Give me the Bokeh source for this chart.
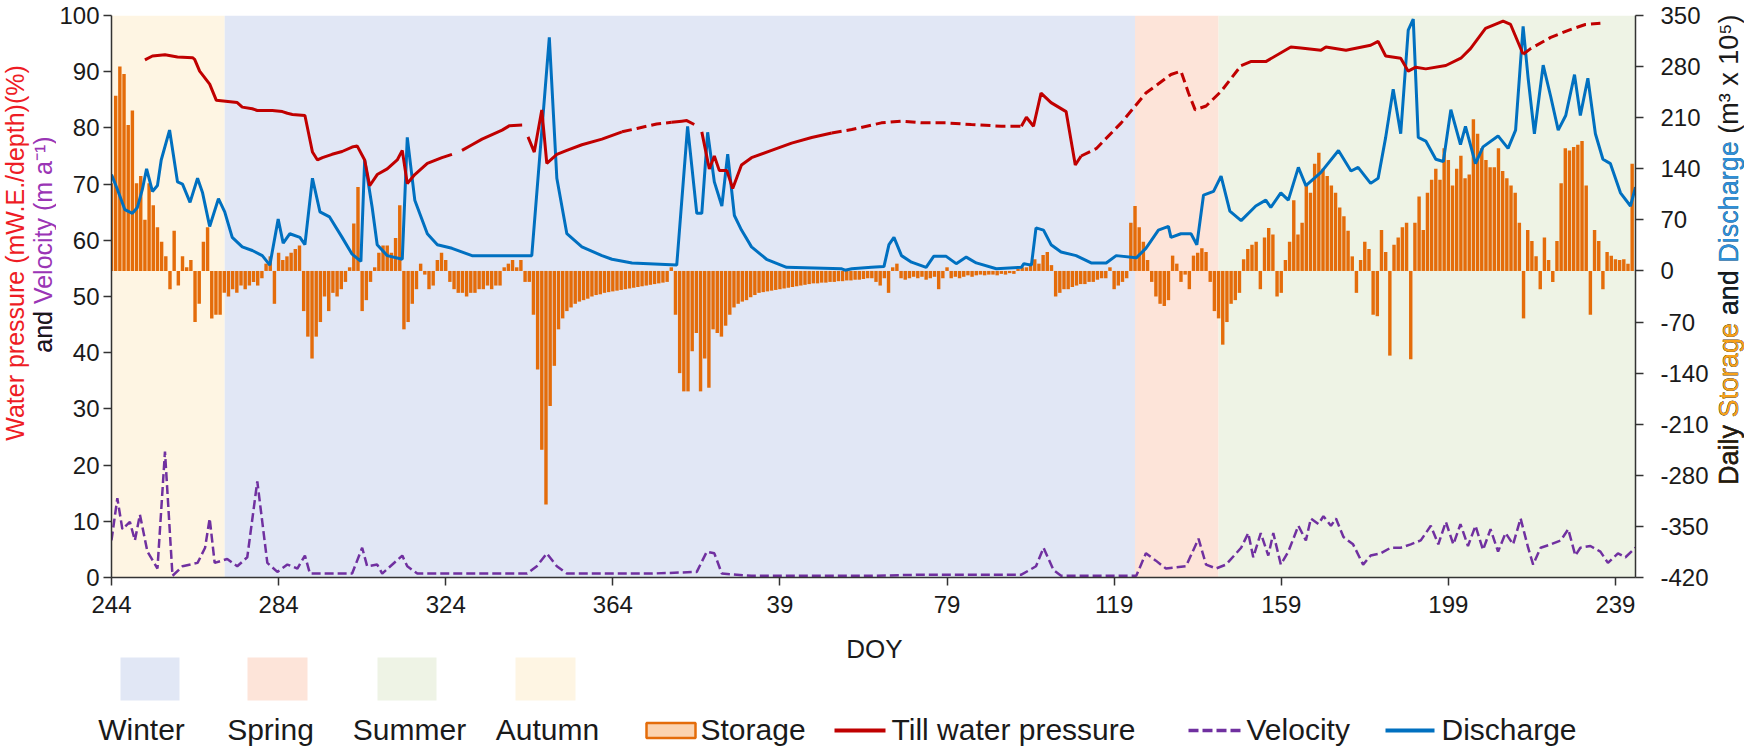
import math
from bokeh.plotting import figure
from bokeh.models import Range1d, LinearAxis, FixedTicker
from bokeh.layouts import row, column
from bokeh.core.properties import value
from bokeh.embed import file_html
from bokeh.resources import INLINE

FONT = "Liberation Sans"
NaN = float("nan")

# ---------------- data ----------------
# x = continuous day index: 244..365 = DOY of first year, 366.. = DOY + 365 of next year
tick_days = [244, 284, 324, 364, 404, 444, 484, 524, 564, 604]
tick_labels = ["244", "284", "324", "364", "39", "79", "119", "159", "199", "239"]
left_ticks = list(range(0, 101, 10))
right_ticks = list(range(-420, 351, 70))

season_names = ["Autumn", "Winter", "Spring", "Summer"]
season_start = [244.0, 271.1, 489.0, 509.0]
season_end = [271.1, 489.0, 509.0, 608.8]
season_colors = ["#FEF5E3", "#E1E7F5", "#FDE4D9", "#EEF3E5"]

# daily storage (m3 x 10^5), one value per day starting at day 244
storage = [
    120, 240, 280, 270, 200, 220, 120, 130, 70, 120,
    90, 60, 40, 20, -25, 55, -20, 20, 5, 15,
    -70, -45, 40, 60, -65, -60, -60, -30, -35, -25,
    -30, -20, -25, -20, -15, -20, -10, 10, 20, -45,
    25, 15, 20, 25, 30, 35, -55, -90, -120, -90,
    -70, -35, -55, -30, -35, -25, -15, 5, 65, 115,
    -55, -40, -15, 5, 25, 35, 35, 25, 45, 90,
    -80, -70, -45, -25, 10, -5, -25, -20, 15, 25,
    15, -15, -25, -30, -30, -35, -30, -30, -25, -25,
    -20, -25, -20, -20, 5, 10, 15, 5, 15, -15,
    -15, -60, -135, -245, -320, -185, -130, -80, -65, -55,
    -50, -45, -42, -40, -38, -35, -33, -32, -30, -29,
    -28, -27, -26, -25, -24, -23, -22, -21, -20, -19,
    -18, -17, -16, -15, 5, -60, -140, -165, -165, -110,
    -85, -165, -120, -160, -80, -85, -90, -75, -60, -50,
    -45, -42, -40, -36, -33, -30, -29, -28, -27, -26,
    -25, -24, -23, -22, -21, -20, -19, -18, -17, -17,
    -16, -16, -15, -15, -14, -14, -13, -13, -12, -12,
    -11, -10, -10, -15, -20, -10, -30, 5, 10, -10,
    -12, -10, -8, -10, -8, -12, -10, -8, -25, -10,
    5, -10, -8, -10, -8, -6, -8, -6, -5, -6,
    -5, -5, -6, -4, -5, -3, -4, 3, 5, 5,
    10, 16, 10, 22, 26, 8, -35, -30, -25, -25,
    -22, -20, -18, -18, -15, -15, -12, -10, -10, 5,
    -25, -20, -15, -10, 66, 89, 60, 40, 15, -15,
    -35, -45, -48, -40, 21, 10, -15, -5, -25, 21,
    25, 31, 26, -15, -55, -65, -101, -70, -45, -40,
    -30, 16, 30, 36, 40, -25, 46, 59, 50, -35,
    -30, 15, 40, 97, 50, 66, 117, 107, 147, 162,
    140, 130, 117, 107, 87, 75, 55, 20, -30, 15,
    40, 30, -60, -62, 56, 26, -116, 36, 46, 60,
    66, -121, 66, 102, 56, 107, 125, 140, 125, 168,
    152, 117, 140, 158, 127, 132, 208, 188, 168, 152,
    142, 142, 168, 137, 127, 117, 107, 66, -65, 56,
    41, 20, -25, 46, 15, -15, 41, 120, 168, 165,
    170, 173, 178, 117, -60, 56, 41, -25, 26, 21,
    16, 15, 16, 10, 147,
]
storage_days = [244 + i for i in range(len(storage))]

discharge_days = [
    244.0, 245.4, 247.2, 249.0, 250.2, 251.4, 252.4, 253.8, 255.0, 255.9,
    257.9, 259.8, 261.0, 262.8, 264.6, 265.8, 267.5, 269.6, 271.1, 272.9,
    275.3, 277.7, 280.1, 281.9, 283.9, 285.1, 286.7, 289.1, 290.3, 292.1,
    293.9, 296.2, 299.2, 301.6, 303.7, 304.6, 306.4, 307.6, 310.0, 313.6,
    314.8, 316.6, 319.6, 322.0, 325.5, 330.3, 344.6, 348.8, 350.6, 353.0,
    356.6, 361.4, 363.8, 368.6, 379.3, 381.9, 384.1, 385.3, 386.7, 388.3,
    390.1, 391.5, 393.1, 394.8, 397.2, 400.8, 405.6, 418.8, 419.6, 421.2,
    425.9, 428.9, 430.1, 431.3, 433.1, 435.5, 439.0, 440.8, 443.8, 446.2,
    448.6, 451.0, 455.8, 461.8, 462.4, 464.2, 465.3, 467.1, 468.9, 471.3,
    474.9, 478.5, 482.1, 484.5, 489.3, 491.6, 494.6, 497.0, 497.6, 500.0,
    502.4, 503.8, 505.4, 507.8, 509.6, 511.7, 514.4, 517.9, 520.3, 521.5,
    523.9, 525.7, 528.1, 529.9, 533.5, 537.7, 540.7, 542.4, 545.4, 547.2,
    549.0, 550.8, 552.6, 554.4, 555.6, 556.8, 558.6, 561.0, 562.8, 564.6,
    566.9, 568.1, 570.5, 572.3, 575.9, 578.3, 580.1, 581.9, 583.1, 584.6,
    586.7, 588.5, 590.3, 592.1, 594.2, 595.6, 597.4, 599.2, 601.0, 602.8,
    605.2, 607.6, 608.8,
]
discharge = [
    132, 112, 84, 79, 87, 112, 140, 109, 117, 152,
    193, 122, 119, 94, 127, 107, 61, 99, 81, 46,
    33, 28, 21, 8, 71, 38, 51, 46, 36, 127,
    81, 74, 46, 23, 13, 152, 87, 36, 21, 16,
    183, 97, 51, 36, 31, 21, 21, 320, 127, 51,
    33, 21, 16, 11, 8, 198, 79, 79, 190, 122,
    89, 160, 76, 56, 33, 16, 5, 3, 1, 3,
    5, 6, 36, 46, 21, 12, 5, 20, 20, 10,
    19, 11, 3, 5, 10, 8, 59, 56, 36, 26,
    21, 11, 11, 21, 18, 31, 56, 61, 46, 51,
    51, 36, 104, 109, 130, 82, 69, 89, 97, 87,
    107, 97, 142, 117, 135, 165, 137, 142, 120, 127,
    183, 249, 188, 330, 345, 183, 178, 153, 150, 221,
    173, 198, 147, 170, 185, 168, 193, 335, 264, 188,
    282, 239, 193, 213, 269, 213, 264, 188, 153, 147,
    107, 89, 115,
]

velocity_days = [
    244.0, 245.4, 246.6, 248.4, 249.6, 250.8, 252.6, 255.0, 256.8, 258.6,
    261.0, 264.6, 266.4, 267.5, 268.7, 271.7, 274.1, 276.5, 278.9, 281.3,
    283.7, 286.1, 288.5, 290.3, 291.5, 295.6, 301.6, 304.0, 305.2, 307.6,
    308.8, 313.6, 314.8, 317.2, 325.5, 337.5, 343.5, 345.8, 348.2, 350.6,
    353.0, 361.4, 373.3, 384.1, 386.5, 388.3, 390.1, 397.2, 410.0, 425.9,
    437.9, 449.8, 461.8, 465.3, 467.1, 469.5, 471.3, 489.3, 491.6, 494.0,
    496.4, 501.2, 504.2, 506.0, 508.4, 510.8, 514.4, 516.1, 517.3, 519.1,
    520.9, 522.1, 523.9, 525.7, 528.1, 529.9, 531.1, 532.9, 534.1, 535.9,
    537.1, 538.9, 541.2, 543.6, 545.4, 547.8, 550.2, 552.6, 555.0, 557.4,
    559.8, 561.6, 563.4, 565.2, 566.9, 568.7, 570.5, 572.3, 574.1, 575.9,
    577.7, 579.5, 581.3, 583.1, 584.3, 586.1, 588.5, 590.9, 592.7, 594.4,
    595.6, 598.0, 600.4, 602.2, 604.6, 606.4, 608.8,
]
velocity = [
    6.6, 14.1, 8.6, 9.9, 6.6, 11.2, 4.6, 1.6, 22.4, 0.3,
    2.0, 2.6, 5.3, 10.5, 2.6, 3.3, 2.0, 3.6, 17.1, 2.6,
    1.0, 2.3, 1.6, 3.9, 0.7, 0.7, 0.7, 5.3, 2.0, 2.3,
    0.7, 3.9, 2.0, 0.7, 0.7, 0.7, 0.7, 2.0, 4.3, 2.0,
    0.7, 0.7, 0.7, 1.0, 4.6, 4.3, 0.7, 0.3, 0.3, 0.3,
    0.5, 0.5, 0.5, 2.0, 5.3, 1.3, 0.3, 0.3, 4.3, 3.0,
    1.6, 2.0, 6.9, 2.3, 1.6, 2.3, 5.3, 7.9, 3.6, 7.9,
    3.9, 7.9, 2.3, 4.6, 9.2, 6.6, 10.5, 9.5, 10.9, 9.2,
    10.5, 7.2, 5.9, 2.3, 3.9, 4.3, 5.3, 5.3, 5.9, 6.6,
    9.2, 5.9, 9.9, 5.9, 9.5, 5.6, 9.2, 4.9, 8.6, 4.6,
    7.9, 5.9, 10.5, 5.3, 2.3, 5.3, 5.9, 6.6, 8.6, 3.9,
    5.3, 5.6, 4.6, 2.6, 4.3, 3.6, 5.3,
]

# till water pressure, measured (solid) - NaN separates gaps
pressure_days = [
    252.0, 253.8, 256.8, 259.8, 263.4, 263.9, 265.1, 267.5, 269.1, 274.1,
    275.3, 277.7, 278.9, 282.5, 284.9, 286.1, 287.3, 290.3, 292.1, 293.3,
    294.5, 296.8, 299.2, 301.6, 302.8, 304.6, 305.8, 307.6, 310.0, 312.4,
    313.6, 314.8, 316.6, 319.6, 323.1, 325.5, NaN,
    327.9, 330.3, 332.7, 335.1, 337.5, 339.3, 342.3, NaN,
    343.7, 345.2, 347.0, 348.2, 350.6, 353.0, 356.6, 361.4, 366.2, NaN,
    378.1, 380.5, 381.7, 383.5, NaN,
    385.3, 387.1, 388.3, 389.5, 391.3, 392.7, 394.8, 397.2, 402.0, 406.8,
    411.6, 416.4, NaN,
    461.8, 463.0, 464.7, 466.5, 468.9, 472.5, 474.7, 476.1, NaN,
    514.4, 516.7, 520.3, 526.3, 528.7, 533.5, 534.7, 539.5, 545.4, 547.2,
    549.0, 552.6, 554.4, 556.2, 558.6, 563.4, 567.0, 569.3, 572.9, 577.1,
    578.9, 581.9,
]
pressure = [
    92.1, 92.8, 93.0, 92.6, 92.5, 92.2, 90.1, 87.8, 84.9, 84.5,
    83.7, 83.4, 83.1, 83.1, 82.9, 82.6, 82.4, 82.2, 75.7, 74.3,
    74.7, 75.3, 75.8, 76.6, 76.8, 74.3, 69.7, 71.7, 72.7, 74.3,
    76.0, 70.1, 71.7, 73.7, 74.7, 75.3, NaN,
    76.0, 77.0, 78.0, 78.8, 79.6, 80.4, 80.5, NaN,
    78.4, 75.7, 83.2, 73.7, 75.3, 76.0, 77.0, 78.0, 79.3, NaN,
    81.0, 81.2, 81.3, 80.6, NaN,
    79.3, 72.7, 75.0, 72.4, 72.4, 69.2, 73.4, 74.7, 76.0, 77.3,
    78.3, 79.1, NaN,
    80.3, 81.9, 80.3, 86.2, 84.5, 82.9, 73.4, 75.0, NaN,
    91.1, 91.8, 91.8, 94.4, 94.2, 93.8, 94.4, 93.8, 94.7, 95.4,
    92.8, 92.4, 90.1, 90.8, 90.5, 91.1, 92.4, 94.1, 97.7, 99.0,
    98.4, 93.1,
]
# till water pressure, gap-filled (dashed)
pressure_fill_days = [
    366.2, 369.8, 374.5, 378.1, NaN,
    416.4, 421.2, 428.3, 433.1, 437.9, 443.8, 449.8, 457.0, 461.8, NaN,
    476.1, 479.7, 485.7, 491.6, 497.6, 500.0, 501.8, 503.4, 506.0, 509.6,
    514.4, NaN,
    581.9, 583.7, 588.5, 593.2, 596.8, 600.4,
]
pressure_fill = [
    79.3, 79.9, 80.7, 81.0, NaN,
    79.1, 79.7, 80.9, 81.2, 80.9, 80.9, 80.6, 80.3, 80.3, NaN,
    75.0, 76.3, 80.9, 86.2, 89.5, 90.1, 86.2, 83.2, 83.9, 86.5,
    91.1, NaN,
    93.1, 94.1, 96.1, 97.5, 98.4, 98.6,
]

legend_series = ["Storage", "Till water pressure", "Velocity", "Discharge"]

# ---------------- styles ----------------
C_STORAGE = "#E46C0A"
C_PRESS = "#C00000"
C_VEL = "#7030A0"
C_DIS = "#0070C0"
C_AXIS = "#333333"
C_TEXT = "#1a1a1a"

X0, X1 = 244.0, 608.8
TOP_H = 625          # height of the row holding the chart
LEFT_W = 56          # width of the left title strip
MAIN_W = 1655
RIGHT_X0 = LEFT_W + MAIN_W
RIGHT_W = 33
BOT_H = 121
TOTAL_W = LEFT_W + MAIN_W + RIGHT_W

WID = {' ': 278, 'a': 556, 'n': 556, 'd': 556, 'V': 667, 'e': 556, 'l': 222, 'o': 556,
       'c': 500, 'i': 222, 't': 278, 'y': 500, '(': 333, 'm': 833, ')': 333, '¹': 333,
       '⁻': 333, 'D': 722, 'S': 667, 'r': 333, 'g': 556, 's': 500, 'h': 556, 'x': 500,
       '1': 556, '0': 556, '³': 333, '⁵': 333, 'W': 944, 'p': 556, 'u': 556, 'E': 667,
       '.': 278, '/': 278, '%': 889}


def tw(s, size):
    return sum(WID.get(ch, 556) for ch in s) * size / 1000.0


def blank(width, height, x0, x1, y0, y1):
    f = figure(width=width, height=height, x_range=Range1d(x0, x1), y_range=Range1d(y0, y1),
               output_backend="svg", toolbar_location=None, x_axis_type=None,
               y_axis_type=None, min_border=0, title=None)
    f.outline_line_color = None
    f.background_fill_color = "white"
    f.border_fill_color = "white"
    return f


# ---------------- main chart ----------------
p = figure(width=MAIN_W, height=TOP_H, x_range=Range1d(X0, X1), y_range=Range1d(0, 100),
           output_backend="svg", toolbar_location=None,
           min_border_left=53, min_border_right=76, min_border_top=15, min_border_bottom=48)
p.extra_y_ranges = {"right": Range1d(-420, 350)}
p.background_fill_color = "white"
p.border_fill_color = "white"
p.outline_line_color = None
p.grid.visible = False

p.quad(left=season_start, right=season_end, bottom=0, top=100, fill_color=season_colors,
       line_color=None)
p.vbar(x=storage_days, top=storage, bottom=0, width=0.82, y_range_name="right",
       fill_color=C_STORAGE, line_color=None)
p.line(discharge_days, discharge, y_range_name="right", line_color=C_DIS, line_width=3)
p.line(pressure_days, pressure, line_color=C_PRESS, line_width=3)
p.line(pressure_fill_days, pressure_fill, line_color=C_PRESS, line_width=3, line_dash="10 5")
p.line(velocity_days, velocity, line_color=C_VEL, line_width=2.5, line_dash="9 4")


def style_axis(ax, standoff):
    ax.axis_line_color = C_AXIS
    ax.axis_line_width = 1.5
    ax.major_tick_line_color = C_AXIS
    ax.major_tick_line_width = 1.5
    ax.major_tick_out = 8
    ax.major_tick_in = 0
    ax.minor_tick_line_color = None
    ax.major_label_text_font = FONT
    ax.major_label_text_font_size = "24px"
    ax.major_label_text_color = C_TEXT
    ax.major_label_standoff = standoff


xa = p.xaxis[0]
xa.ticker = FixedTicker(ticks=tick_days)
xa.major_label_overrides = {d: l for d, l in zip(tick_days, tick_labels)}
style_axis(xa, 10)

ya = p.yaxis[0]
ya.ticker = FixedTicker(ticks=left_ticks)
style_axis(ya, 4)

ra = LinearAxis(y_range_name="right", ticker=FixedTicker(ticks=right_ticks))
ra.major_label_overrides = {v: str(v) for v in right_ticks}
style_axis(ra, 17)
p.add_layout(ra, "right")


# ---------------- rotated multi-colour axis titles ----------------
# The words share one anchor: each layer is a prefix of the whole title, drawn
# from the longest to the shortest in the colour of its last word, so the
# browser itself spaces the words.
def vtitle(fig, words, mid_x, center_y, size):
    full = " ".join(w for w, _ in words)
    start = center_y + tw(full, size) / 2.0   # page px of the lower end
    ys, ts, cs = [], [], []
    for k in range(len(words), 0, -1):
        ts.append(" ".join(w for w, _ in words[:k]))
        cs.append(words[k - 1][1])
        ys.append(TOP_H - start)
    fig.text(x=[mid_x] * len(ts), y=ys, text=ts, text_color=cs, angle=math.pi / 2,
             text_align="left", text_baseline="middle", text_font=value(FONT),
             text_font_size=value(f"{size}px"))


lf = blank(LEFT_W, TOP_H, 0, LEFT_W, 0, TOP_H)
vtitle(lf, [("Water pressure (mW.E./depth)(%)", "#EE1C25")], 14.0, 284, 25)
vtitle(lf, [("and", C_TEXT), ("Velocity (m a⁻¹)", "#9A35B5")], 42.0, 266, 25)

rf = blank(RIGHT_W, TOP_H, RIGHT_X0, RIGHT_X0 + RIGHT_W, 0, TOP_H)
vtitle(rf, [("Daily", C_TEXT), ("Storage", "#F7A21B"), ("and", C_TEXT),
            ("Discharge", "#2F8FD8"), ("(m³ x 10⁵)", C_TEXT)], 1728.3, 288, 27)

# ---------------- x-axis title and legend strip ----------------
BOT_TOP = TOP_H
bf = blank(TOTAL_W, BOT_H, 0, TOTAL_W, 0, BOT_H)


def by(page_y):
    return BOT_TOP + BOT_H - page_y


bf.text(x=[874], y=[by(648)], text=["DOY"], text_align="center", text_baseline="middle",
        text_font=value(FONT), text_font_size=value("26px"), text_color=C_TEXT)

sw_names = ["Winter", "Spring", "Summer", "Autumn"]
sw_left = [120, 247, 377, 515]
sw_right = [179, 307, 436, 575]
sw_label_x = [141, 270, 409, 547]
sw_cols = [season_colors[season_names.index(n)] for n in sw_names]
bf.quad(left=sw_left, right=sw_right, top=by(657), bottom=by(700), fill_color=sw_cols,
        line_color=None)
TXT_Y = by(728.5)
bf.text(x=sw_label_x, y=[TXT_Y] * 4, text=sw_names, text_align="center",
        text_baseline="middle", text_font=value(FONT), text_font_size=value("30px"),
        text_color=C_TEXT)

# series legend glyphs
bf.quad(left=[646], right=[695], top=[by(722.5)], bottom=[by(737.5)], fill_color="#FBD3B0",
        line_color=C_STORAGE, line_width=2.5)
bf.line(x=[834, 885], y=[by(730), by(730)], line_color=C_PRESS, line_width=4)
bf.line(x=[1188, 1242], y=[by(730), by(730)], line_color=C_VEL, line_width=3.5,
        line_dash="10 4")
bf.line(x=[1385, 1434], y=[by(730), by(730)], line_color=C_DIS, line_width=4)
bf.text(x=[700, 891, 1246, 1441], y=[TXT_Y] * 4, text=legend_series, text_align="left",
        text_baseline="middle", text_font=value(FONT), text_font_size=value("30px"),
        text_color=C_TEXT)

layout = column(row(lf, p, rf), bf)
open("out.html", "w").write(file_html(layout, INLINE))
